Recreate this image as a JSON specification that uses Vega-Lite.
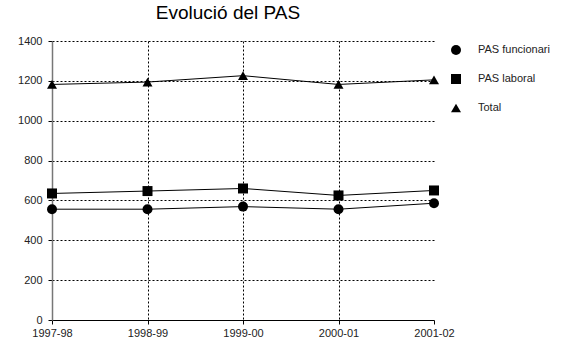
{
  "$schema": "https://vega.github.io/schema/vega-lite/v6.json",
  "autosize": "none",
  "width": 382,
  "height": 279,
  "padding": {"left": 52, "top": 41, "right": 128, "bottom": 23},
  "background": "white",
  "title": {
    "text": "Evolució del PAS",
    "font": "Liberation Sans",
    "fontSize": 19,
    "fontWeight": "normal",
    "color": "black",
    "anchor": "middle",
    "dx": -15,
    "offset": 12
  },
  "data": {
    "values": [
      {"period": "1997-98", "series": "PAS funcionari", "value": 556},
      {"period": "1998-99", "series": "PAS funcionari", "value": 556},
      {"period": "1999-00", "series": "PAS funcionari", "value": 569},
      {"period": "2000-01", "series": "PAS funcionari", "value": 556},
      {"period": "2001-02", "series": "PAS funcionari", "value": 586},
      {"period": "1997-98", "series": "PAS laboral", "value": 635},
      {"period": "1998-99", "series": "PAS laboral", "value": 647},
      {"period": "1999-00", "series": "PAS laboral", "value": 660},
      {"period": "2000-01", "series": "PAS laboral", "value": 625},
      {"period": "2001-02", "series": "PAS laboral", "value": 650},
      {"period": "1997-98", "series": "Total", "value": 1182},
      {"period": "1998-99", "series": "Total", "value": 1194},
      {"period": "1999-00", "series": "Total", "value": 1226},
      {"period": "2000-01", "series": "Total", "value": 1182},
      {"period": "2001-02", "series": "Total", "value": 1205}
    ]
  },
  "mark": {"type": "line", "color": "black", "strokeWidth": 1, "point": {"filled": true, "color": "black", "size": 100, "opacity": 1}},
  "encoding": {
    "x": {
      "field": "period",
      "type": "ordinal",
      "scale": {"type": "point", "padding": 0},
      "axis": {
        "title": null,
        "labelAngle": 0,
        "labelFont": "Liberation Sans",
        "labelFontSize": 11,
        "labelColor": "#222",
        "labelPadding": 3,
        "domainColor": "black",
        "domainWidth": 1,
        "tickColor": "black",
        "tickSize": 4,
        "grid": true,
        "gridDash": [2, 2],
        "gridWidth": 1,
        "gridColor": {"condition": {"test": "datum.value === '2001-02' || datum.value === '1997-98'", "value": "transparent"}, "value": "black"}
      }
    },
    "y": {
      "field": "value",
      "type": "quantitative",
      "scale": {"domain": [0, 1400], "nice": false},
      "axis": {
        "title": null,
        "values": [0, 200, 400, 600, 800, 1000, 1200, 1400],
        "format": "d",
        "labelFont": "Liberation Sans",
        "labelFontSize": 11,
        "labelColor": "#222",
        "labelPadding": 6,
        "domainColor": "#777",
        "domainWidth": 1.5,
        "tickColor": "black",
        "tickSize": 4,
        "grid": true,
        "gridDash": [2, 2],
        "gridWidth": 1,
        "gridColor": {"condition": {"test": "datum.value === 0", "value": "transparent"}, "value": "black"}
      }
    },
    "detail": {"field": "series", "type": "nominal"},
    "shape": {
      "field": "series",
      "type": "nominal",
      "scale": {"domain": ["PAS funcionari", "PAS laboral", "Total"], "range": ["circle", "square", "triangle-up"]},
      "legend": {
        "title": null,
        "orient": "none",
        "legendX": 398,
        "legendY": 3,
        "symbolSize": 100,
        "symbolFillColor": "black",
        "symbolStrokeColor": "black",
        "labelFont": "Liberation Sans",
        "labelFontSize": 11,
        "labelColor": "#222",
        "labelOffset": 16,
        "rowPadding": 13
      }
    }
  },
  "config": {"view": {"stroke": null}}
}
